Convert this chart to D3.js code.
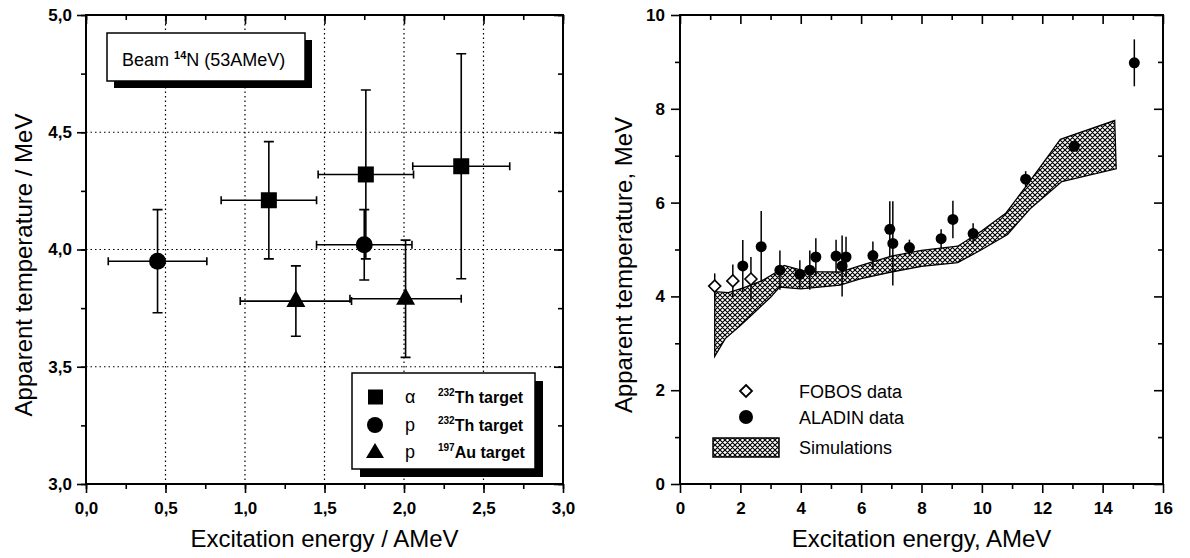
<!DOCTYPE html>
<html><head><meta charset="utf-8">
<script src="https://cdn.jsdelivr.net/npm/d3@7"></script>
<style>
html,body{margin:0;padding:0;background:#fff;}
svg{display:block;font-family:"Liberation Sans",Arial,sans-serif;}
.axis text{font-size:17px;font-weight:bold;font-family:"Liberation Sans",Arial,sans-serif;fill:#000;}
.axis line{stroke:#000;stroke-width:1.6px;}
</style></head><body>
<svg id="chart" width="1190" height="558"></svg>
<script>
// ---- Left panel: 14N beam (53 AMeV) ----
const alphaThX = [1.15, 1.76, 2.36];
const alphaThY = [4.21, 4.32, 4.355];
const alphaThXErr = [0.30, 0.30, 0.305];
const alphaThYErr = [0.25, 0.36, 0.48];

const protonThX = [0.45, 1.75];
const protonThY = [3.95, 4.02];
const protonThXErr = [0.31, 0.30];
const protonThYErr = [0.22, 0.15];

const protonAuX = [1.32, 2.01];
const protonAuY = [3.78, 3.79];
const protonAuXErr = [0.35, 0.35];
const protonAuYErr = [0.15, 0.25];

const leftXTicks = [0, 0.5, 1.0, 1.5, 2.0, 2.5, 3.0];
const leftXTickLabels = ["0,0", "0,5", "1,0", "1,5", "2,0", "2,5", "3,0"];
const leftYTicks = [3.0, 3.5, 4.0, 4.5, 5.0];
const leftYTickLabels = ["3,0", "3,5", "4,0", "4,5", "5,0"];
const leftXGrid = [0.5, 1.0, 1.5, 2.0, 2.5];
const leftYGrid = [3.5, 4.0, 4.5];

// ---- Right panel: FOBOS / ALADIN / simulations ----
const fobosX = [1.15, 1.75, 2.35];
const fobosY = [4.22, 4.33, 4.37];
const fobosErr = [0.27, 0.35, 0.47];

const aladinX = [2.08, 2.69, 3.31, 3.97, 4.30, 4.50, 5.17, 5.37, 5.50, 6.39, 6.95, 7.05, 7.60, 8.65, 9.04, 9.71, 11.45, 13.06, 15.05];
const aladinY = [4.65, 5.06, 4.56, 4.47, 4.56, 4.84, 4.86, 4.65, 4.84, 4.87, 5.43, 5.13, 5.04, 5.23, 5.64, 5.34, 6.50, 7.20, 8.98];
const aladinErr = [0.55, 0.76, 0.42, 0.30, 0.42, 0.40, 0.35, 0.65, 0.43, 0.30, 0.60, 0.90, 0.17, 0.20, 0.40, 0.22, 0.17, 0.10, 0.50];

const simUpperX = [1.15, 1.6, 2.1, 2.7, 3.2, 3.45, 4.2, 5.3, 6.0, 7.0, 8.0, 9.2, 10.0, 10.8, 11.5, 12.6, 14.4];
const simUpperY = [4.10, 4.08, 4.18, 4.33, 4.52, 4.66, 4.53, 4.52, 4.66, 4.86, 4.98, 5.07, 5.40, 5.78, 6.38, 7.35, 7.75];
const simLowerX = [1.15, 1.5, 2.0, 2.5, 3.0, 3.3, 4.0, 5.3, 6.0, 7.0, 8.0, 9.2, 10.0, 10.85, 11.6, 12.65, 14.45];
const simLowerY = [2.72, 3.10, 3.38, 3.68, 3.98, 4.20, 4.16, 4.24, 4.38, 4.52, 4.64, 4.72, 5.00, 5.32, 5.87, 6.45, 6.72];

const rightXTicks = [0, 2, 4, 6, 8, 10, 12, 14, 16];
const rightYTicks = [0, 2, 4, 6, 8, 10];

const svg = d3.select("#chart");

// crosshatch fill for the simulation band
const defs = svg.append("defs");
const pat = defs.append("pattern").attr("id", "hatch")
  .attr("width", 5).attr("height", 5).attr("patternUnits", "userSpaceOnUse");
pat.append("rect").attr("width", 5).attr("height", 5).attr("fill", "#fff");
pat.append("path").attr("d", "M0,0L5,5M5,0L0,5M-1,4L1,6M4,-1L6,1M-1,1L1,-1M4,6L6,4")
  .attr("stroke", "#000").attr("stroke-width", 1.15);

const xL = d3.scaleLinear().domain([0, 3]).range([86, 563]);
const yL = d3.scaleLinear().domain([3, 5]).range([484, 15]);
const xR = d3.scaleLinear().domain([0, 16]).range([680, 1163]);
const yR = d3.scaleLinear().domain([0, 10]).range([484, 15]);

function range(a, b, s) { const r = []; for (let v = a; v <= b + 1e-9; v += s) r.push(+v.toFixed(4)); return r; }

function drawFrame(g, x, y, majX, minX, majY, minY, xLabels, yLabels, xPad, yPad) {
  const [x0, x1] = x.range(), [y0, y1] = y.range();
  const put = (tx, ty, axis) => {
    const a = g.append("g").attr("class", "axis").attr("transform", `translate(${tx},${ty})`).call(axis);
    a.select(".domain").remove();
    a.attr("font-size", null).attr("font-family", null);
    return a;
  };
  // bottom
  put(0, y0, d3.axisBottom(x).tickValues(minX).tickSize(5).tickFormat(""));
  put(0, y0, d3.axisBottom(x).tickValues(majX).tickSize(9).tickPadding(xPad).tickFormat((d, i) => xLabels[i]));
  // left
  put(x0, 0, d3.axisLeft(y).tickValues(minY).tickSize(5).tickFormat(""));
  put(x0, 0, d3.axisLeft(y).tickValues(majY).tickSize(9).tickPadding(yPad).tickFormat((d, i) => yLabels[i]));
  // top (ticks hang inward)
  put(0, y1, d3.axisBottom(x).tickValues(minX).tickSize(5).tickFormat(""));
  put(0, y1, d3.axisBottom(x).tickValues(majX).tickSize(9).tickFormat(""));
  // right (ticks point inward)
  put(x1, 0, d3.axisLeft(y).tickValues(minY).tickSize(5).tickFormat(""));
  put(x1, 0, d3.axisLeft(y).tickValues(majY).tickSize(9).tickFormat(""));
  g.append("rect").attr("x", x0).attr("y", y1).attr("width", x1 - x0).attr("height", y0 - y1)
    .attr("fill", "none").attr("stroke", "#000").attr("stroke-width", 2);
}

function trianglePath(cx, cy, hw, up, down) {
  return `M${cx},${cy - up}L${cx + hw},${cy + down}L${cx - hw},${cy + down}Z`;
}

// ================= LEFT PANEL =================
const gl = svg.append("g");

// dotted grid
gl.selectAll(".gx").data(leftXGrid).join("line")
  .attr("x1", d => xL(d)).attr("x2", d => xL(d)).attr("y1", yL(5)).attr("y2", yL(3))
  .attr("stroke", "#000").attr("stroke-width", 1.2).attr("stroke-dasharray", "1.5,3");
gl.selectAll(".gy").data(leftYGrid).join("line")
  .attr("x1", xL(0)).attr("x2", xL(3)).attr("y1", d => yL(d)).attr("y2", d => yL(d))
  .attr("stroke", "#000").attr("stroke-width", 1.2).attr("stroke-dasharray", "1.5,3");

// beam label box with drop shadow
gl.append("rect").attr("x", 114).attr("y", 40).attr("width", 198).attr("height", 48).attr("fill", "#000");
gl.append("rect").attr("x", 107).attr("y", 33).attr("width", 198).attr("height", 48)
  .attr("fill", "#fff").attr("stroke", "#000").attr("stroke-width", 1.5);
const beamText = gl.append("text").attr("x", 122).attr("y", 66).attr("font-size", 18).attr("fill", "#000");
beamText.append("tspan").text("Beam ");
beamText.append("tspan").attr("font-size", 11).attr("font-weight", "bold").attr("dy", -7).text("14");
beamText.append("tspan").attr("dy", 7).text("N (53AMeV)");

// error bars
function errorBars(g, xs, ys, xe, ye) {
  xs.forEach((xv, i) => {
    const cx = xL(xv), cy = yL(ys[i]);
    const xa = xL(xv - xe[i]), xb = xL(xv + xe[i]);
    const ya = yL(ys[i] + ye[i]), yb = yL(ys[i] - ye[i]);
    const p = `M${xa},${cy}H${xb}M${xa},${cy - 4}V${cy + 4}M${xb},${cy - 4}V${cy + 4}` +
              `M${cx},${ya}V${yb}M${cx - 5},${ya}H${cx + 5}M${cx - 5},${yb}H${cx + 5}`;
    g.append("path").attr("d", p).attr("stroke", "#000").attr("stroke-width", 1.6).attr("fill", "none");
  });
}
errorBars(gl, alphaThX, alphaThY, alphaThXErr, alphaThYErr);
errorBars(gl, protonThX, protonThY, protonThXErr, protonThYErr);
errorBars(gl, protonAuX, protonAuY, protonAuXErr, protonAuYErr);

alphaThX.forEach((xv, i) => {
  gl.append("rect").attr("x", xL(xv) - 8).attr("y", yL(alphaThY[i]) - 8)
    .attr("width", 16).attr("height", 16).attr("fill", "#000");
});
protonThX.forEach((xv, i) => {
  gl.append("circle").attr("cx", xL(xv)).attr("cy", yL(protonThY[i])).attr("r", 8.5).attr("fill", "#000");
});
protonAuX.forEach((xv, i) => {
  gl.append("path").attr("d", trianglePath(xL(xv), yL(protonAuY[i]), 9.5, 11, 6)).attr("fill", "#000");
});

// legend box with drop shadow
gl.append("rect").attr("x", 360).attr("y", 381).attr("width", 183).attr("height", 96).attr("fill", "#000");
gl.append("rect").attr("x", 352).attr("y", 373).attr("width", 183).attr("height", 96)
  .attr("fill", "#fff").attr("stroke", "#000").attr("stroke-width", 1.5);
const legRows = [
  { sym: "square", part: "\u03b1", iso: "232", el: "Th target" },
  { sym: "circle", part: "p", iso: "232", el: "Th target" },
  { sym: "triangle", part: "p", iso: "197", el: "Au target" }
];
const legY = [397, 425, 452];
legRows.forEach((r, i) => {
  const cy = legY[i];
  if (r.sym === "square") gl.append("rect").attr("x", 368).attr("y", cy - 7.5).attr("width", 15).attr("height", 15).attr("fill", "#000");
  if (r.sym === "circle") gl.append("circle").attr("cx", 375).attr("cy", cy).attr("r", 8).attr("fill", "#000");
  if (r.sym === "triangle") gl.append("path").attr("d", trianglePath(375, cy, 9, 9, 6)).attr("fill", "#000");
  gl.append("text").attr("x", 405).attr("y", cy + 6).attr("font-size", 18).attr("fill", "#000").text(r.part);
  const t = gl.append("text").attr("x", 438).attr("y", cy + 6).attr("font-size", 16).attr("font-weight", "bold").attr("fill", "#000");
  t.append("tspan").attr("font-size", 10).attr("dy", -7).text(r.iso);
  t.append("tspan").attr("dy", 7).text(r.el);
});

drawFrame(gl, xL, yL, leftXTicks, range(0, 3, 0.25), leftYTicks, range(3, 5, 0.25),
  leftXTickLabels, leftYTickLabels, 9, 5);

gl.append("text").attr("x", xL(1.5)).attr("y", 547).attr("text-anchor", "middle")
  .attr("font-size", 24).attr("fill", "#000").text("Excitation energy / AMeV");
gl.append("text").attr("transform", "translate(32,265) rotate(-90)").attr("text-anchor", "middle")
  .attr("font-size", 24).attr("fill", "#000").text("Apparent temperature / MeV");

// ================= RIGHT PANEL =================
const gr = svg.append("g");

// simulation band: upper edge forward, lower edge back
const bandPts = simUpperX.map((x, i) => [xR(x), yR(simUpperY[i])])
  .concat(simLowerX.map((x, i) => [xR(x), yR(simLowerY[i])]).reverse());
gr.append("path").attr("d", d3.line()(bandPts) + "Z")
  .attr("fill", "url(#hatch)").attr("stroke", "#000").attr("stroke-width", 1.3);

// ALADIN error bars and points
aladinX.forEach((xv, i) => {
  gr.append("line").attr("x1", xR(xv)).attr("x2", xR(xv))
    .attr("y1", yR(aladinY[i] + aladinErr[i])).attr("y2", yR(aladinY[i] - aladinErr[i]))
    .attr("stroke", "#000").attr("stroke-width", 1.5);
});
aladinX.forEach((xv, i) => {
  gr.append("circle").attr("cx", xR(xv)).attr("cy", yR(aladinY[i])).attr("r", 5.5).attr("fill", "#000");
});

// FOBOS points: open diamonds
fobosX.forEach((xv, i) => {
  gr.append("line").attr("x1", xR(xv)).attr("x2", xR(xv))
    .attr("y1", yR(fobosY[i] + fobosErr[i])).attr("y2", yR(fobosY[i] - fobosErr[i]))
    .attr("stroke", "#000").attr("stroke-width", 1.5);
});
const diamond = (cx, cy, r) => `M${cx},${cy - r}L${cx + r},${cy}L${cx},${cy + r}L${cx - r},${cy}Z`;
fobosX.forEach((xv, i) => {
  gr.append("path").attr("d", diamond(xR(xv), yR(fobosY[i]), 6))
    .attr("fill", "#fff").attr("stroke", "#000").attr("stroke-width", 1.6);
});

// legend
gr.append("path").attr("d", diamond(746, 391, 6)).attr("fill", "#fff").attr("stroke", "#000").attr("stroke-width", 1.8);
gr.append("circle").attr("cx", 746).attr("cy", 417).attr("r", 7).attr("fill", "#000");
gr.append("rect").attr("x", 713).attr("y", 438).attr("width", 66).attr("height", 19)
  .attr("fill", "url(#hatch)").attr("stroke", "#000").attr("stroke-width", 1.5);
const legTexts = ["FOBOS data", "ALADIN data", "Simulations"];
const legTy = [398, 424, 454];
legTexts.forEach((s, i) => {
  gr.append("text").attr("x", 799).attr("y", legTy[i]).attr("font-size", 18).attr("fill", "#000").text(s);
});

drawFrame(gr, xR, yR, rightXTicks, range(1, 15, 2), rightYTicks, range(1, 9, 2),
  rightXTicks.map(String), rightYTicks.map(String), 9, 6);

gr.append("text").attr("x", xR(8)).attr("y", 547).attr("text-anchor", "middle")
  .attr("font-size", 24).attr("fill", "#000").text("Excitation energy, AMeV");
gr.append("text").attr("transform", "translate(632,265) rotate(-90)").attr("text-anchor", "middle")
  .attr("font-size", 24).attr("fill", "#000").text("Apparent temperature, MeV");
</script>
</body></html>
